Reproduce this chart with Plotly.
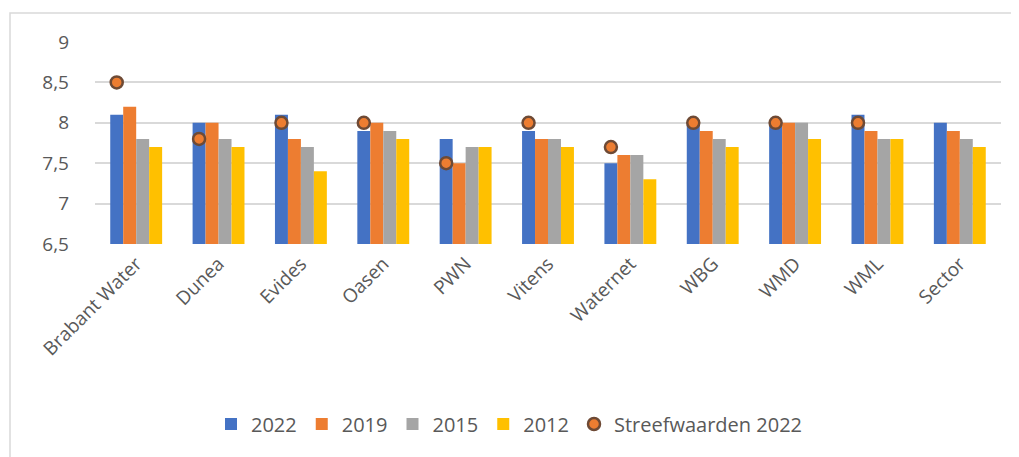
import numpy as np
import plotly.graph_objects as go

categories = ["Brabant Water", "Dunea", "Evides", "Oasen", "PWN", "Vitens",
              "Waternet", "WBG", "WMD", "WML", "Sector"]
v2022 = [8.1, 8.0, 8.1, 7.9, 7.8, 7.9, 7.5, 8.0, 8.0, 8.1, 8.0]
v2019 = [8.2, 8.0, 7.8, 8.0, 7.5, 7.8, 7.6, 7.9, 8.0, 7.9, 7.9]
v2015 = [7.8, 7.8, 7.7, 7.9, 7.7, 7.8, 7.6, 7.8, 8.0, 7.8, 7.8]
v2012 = [7.7, 7.7, 7.4, 7.8, 7.7, 7.7, 7.3, 7.7, 7.8, 7.8, 7.7]
target2022 = [8.5, 7.8, 8.0, 8.0, 7.5, 8.0, 7.7, 8.0, 8.0, 8.0, None]

series = [("2022", v2022, "#4472C4"), ("2019", v2019, "#ED7D31"),
          ("2015", v2015, "#A5A5A5"), ("2012", v2012, "#FFC000")]

x = np.arange(len(categories))
bargap = 0.37
bar_w = (1 - bargap) / len(series)
first_offset = -(1 - bargap) / 2 + bar_w / 2

font = "'Open Sans', sans-serif"
txt = "#595959"

W, H = 1011, 449
L, R, T, B = 87, 18, 34, 213
pw, ph = W - L - R, H - T - B

fig = go.Figure()
for name, vals, col in series:
    fig.add_trace(go.Bar(x=x, y=vals, name=name, marker_color=col,
                         marker_line_width=0))

fig.add_trace(go.Scatter(
    x=x + first_offset, y=target2022, mode="markers", name="Streefwaarden 2022",
    marker=dict(size=12, color="#ED7D31", line=dict(color="#6E4A35", width=2.5)),
))

fig.update_layout(
    width=W, height=H,
    margin=dict(l=L, r=R, t=T, b=B, autoexpand=False),
    barmode="group", bargap=bargap, bargroupgap=0,
    plot_bgcolor="white", paper_bgcolor="white",
    separators=",.",
    font=dict(family=font, color=txt, size=19),
    showlegend=True,
    legend=dict(orientation="h", x=(203 - L) / pw, xanchor="left",
                y=-(424 - 8 - (T + ph)) / ph, yanchor="middle",
                font=dict(size=20, color=txt),
                itemwidth=30, traceorder="normal"),
    xaxis=dict(range=[-0.5, len(categories) - 0.5], tickmode="array",
               tickvals=x, ticktext=categories, tickangle=-45,
               showgrid=False, zeroline=False, showline=False,
               ticks="", ticklen=0, ticklabelstandoff=4,
               tickfont=dict(size=19, color=txt)),
    yaxis=dict(range=[6.5, 9.0], dtick=0.5, tick0=6.5, showgrid=True,
               gridcolor="#D9D9D9", gridwidth=1.5, zeroline=False,
               showline=False, tickfont=dict(size=19, color=txt),
               ticklabelstandoff=25),
    shapes=[dict(type="rect", xref="paper", yref="paper",
                 x0=(2 - L) / pw, x1=(W + 10 - L) / pw,
                 y0=-(H + 10 - T - ph) / ph, y1=(T + ph - 5) / ph,
                 line=dict(color="#D9D9D9", width=1.5), layer="below")],
)

fig.write_html("out.html")
